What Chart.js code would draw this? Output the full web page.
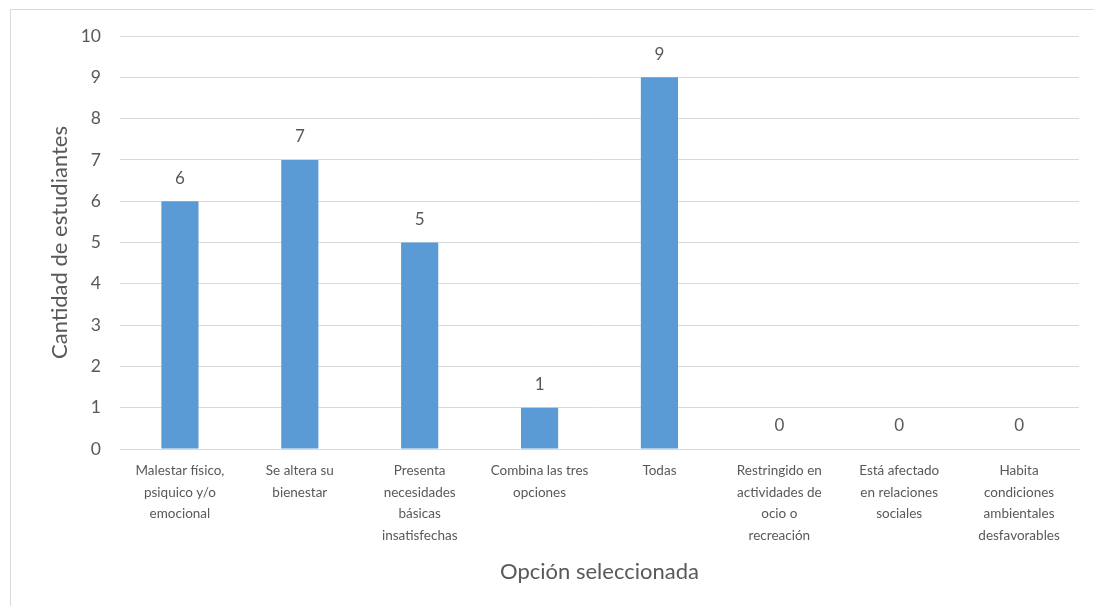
<!DOCTYPE html>
<html>
<head>
<meta charset="utf-8">
<script src="https://cdn.jsdelivr.net/npm/chart.js@4.4.1/dist/chart.umd.min.js"></script>
<style>
  html, body { margin: 0; padding: 0; background: #fff; overflow: hidden; }
  #wrap { position: relative; width: 1094px; height: 606px; }
  #frame { position: absolute; left: 10px; top: 9px; width: 1100px; height: 620px; border: 1px solid #d9d9d9; box-sizing: border-box; }
  canvas { position: absolute; left: 0; top: 0; }
</style>
</head>
<body>
<div id="wrap">
  <div id="frame"></div>
  <canvas id="chart" width="1094" height="606"></canvas>
</div>
<script>
const categories = [
  ["Malestar físico,", "psiquico y/o", "emocional"],
  ["Se altera su", "bienestar"],
  ["Presenta", "necesidades", "básicas", "insatisfechas"],
  ["Combina las tres", "opciones"],
  ["Todas"],
  ["Restringido en", "actividades de", "ocio o", "recreación"],
  ["Está afectado", "en relaciones", "sociales"],
  ["Habita", "condiciones", "ambientales", "desfavorables"]
];
const students = [6, 7, 5, 1, 9, 0, 0, 0];
const yTicks = [0, 1, 2, 3, 4, 5, 6, 7, 8, 9, 10];

const FONT = "Lato, 'Open Sans', sans-serif";
const TEXT = "#595959";
const GRID = "#d9d9d9";

/* draws the value above each bar */
const barValues = {
  id: "barValues",
  afterDatasetsDraw(chart) {
    const ctx = chart.ctx;
    const meta = chart.getDatasetMeta(0);
    ctx.save();
    ctx.font = "17px " + FONT;
    ctx.fillStyle = TEXT;
    ctx.textAlign = "center";
    ctx.textBaseline = "middle";
    meta.data.forEach((bar, i) => {
      ctx.fillText(String(students[i]), bar.x, bar.y - 23);
    });
    ctx.restore();
  }
};

new Chart(document.getElementById("chart"), {
  type: "bar",
  data: {
    labels: categories,
    datasets: [{
      data: students,
      backgroundColor: "#5b9bd5",
      barPercentage: 0.31,
      categoryPercentage: 1
    }]
  },
  plugins: [barValues],
  options: {
    responsive: false,
    animation: false,
    layout: { padding: { left: 0, right: 15, top: 36, bottom: 0 } },
    plugins: { legend: { display: false }, tooltip: { enabled: false } },
    scales: {
      x: {
        grid: { display: false, drawTicks: false },
        border: { display: true, color: GRID, width: 1 },
        ticks: {
          color: TEXT,
          font: { family: FONT, size: 13.5, lineHeight: 1.6 },
          padding: 11,
          maxRotation: 0,
          autoSkip: false
        },
        title: {
          display: true,
          text: "Opción seleccionada",
          color: TEXT,
          font: { family: FONT, size: 22 },
          padding: { top: 0, bottom: 21 }
        },
        afterFit(scale) { scale.height = 157; }
      },
      y: {
        min: 0,
        max: 10,
        afterBuildTicks(scale) { scale.ticks = yTicks.map(v => ({ value: v })); },
        grid: { color: GRID, drawTicks: false, lineWidth: 1 },
        border: { display: false },
        ticks: {
          color: TEXT,
          font: { family: FONT, size: 17.5 },
          padding: 19
        },
        title: {
          display: true,
          text: "Cantidad de estudiantes",
          color: TEXT,
          font: { family: FONT, size: 22 },
          padding: { top: 47, bottom: 0 }
        },
        afterFit(scale) { scale.width = 120; }
      }
    }
  }
});
</script>
</body>
</html>
